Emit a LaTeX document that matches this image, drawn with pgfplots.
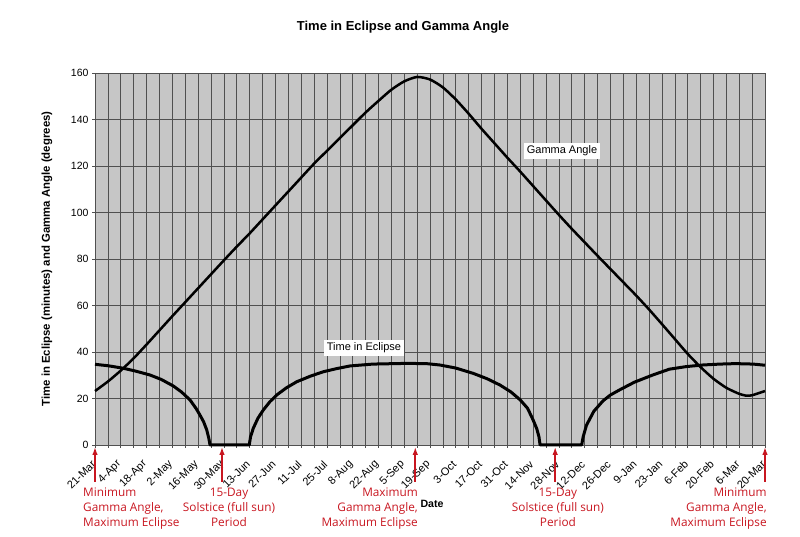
\documentclass[border=0pt]{standalone}
\usepackage{fontspec}
\setmainfont{Liberation Sans}
\newfontfamily\redfont{Open Sans}
\usepackage{pgfplots}
\pgfplotsset{compat=1.18}
\usepackage{pgfplotstable}
\usetikzlibrary{arrows.meta}
\definecolor{annred}{RGB}{200,22,32}
\definecolor{bggray}{RGB}{198,198,198}
\definecolor{gridgray}{RGB}{80,80,80}

\pgfplotstableread{
day val
0 23.2
7 27.3
14 32
21 37.3
28 43.2
35 49.3
42 55.4
49 61.4
56 67.4
63 73.4
70 79.4
77 85.3
84 91
91 97
98 103
105 109
112 115
119 121
126 126.5
133 132
140 137.5
147 143
154 148
161 152.8
168 156.4
175 158.3
182 157.2
189 153.8
196 148.6
203 142.5
210 136
217 129.8
224 123.6
231 117.6
238 111.4
245 105.2
252 99
259 93
266 87.2
273 81.4
280 75.7
287 70
294 64.3
301 58.3
308 52
315 45.6
322 39.2
329 33.5
336 28.5
343 24.6
350 22
354 21.2
357 21.4
364 23.2
}\gammatab

\pgfplotstableread{
day val
0 34.7
7 34.1
15.4 33.0
22 31.8
29.9 30.1
36 28.2
42.5 25.4
47 22.8
51.6 19.4
55 15.6
57 12.9
59 10
60.7 6.5
61.8 3
62.5 0
83.8 0
84.5 3.5
86 7.2
88.5 11.5
91.4 15
95 18.6
98.7 21.5
104 24.6
109.6 27.2
117 29.6
124 31.5
131 32.8
138.5 34
151 34.8
169 35.1
180 35
187.4 34.4
196 33.1
205.5 30.8
213 28.5
220 25.8
226 22.8
231 19.4
235 15.8
238 10.8
240 7
241.2 3.5
241.8 0
264.4 0
265.2 3.5
267 8.5
271 14.5
276 19
280 21.5
285 23.7
293 27
303 30.1
312 32.6
321 33.7
330 34.4
339.5 34.8
348 35
357.6 34.8
364 34.3
}\eclipsetab

\begin{document}
\begin{tikzpicture}[x=1pt,y=1pt]
\useasboundingbox (0,0) rectangle (800,537);
\begin{axis}[
  at={(95pt,92pt)}, anchor=south west,
  scale only axis, width=670pt, height=372pt,
  xmin=0, xmax=364, ymin=0, ymax=160,
  clip=false,
  axis background/.style={fill=bggray},
  axis line style={gridgray, line width=0.6pt},
  xtick={0,14,...,364},
  minor x tick num=1,
  ytick={0,20,...,160},
  xticklabels={21-Mar,4-Apr,18-Apr,2-May,16-May,30-May,13-Jun,27-Jun,11-Jul,25-Jul,8-Aug,22-Aug,5-Sep,19-Sep,3-Oct,17-Oct,31-Oct,14-Nov,28-Nov,12-Dec,26-Dec,9-Jan,23-Jan,6-Feb,20-Feb,6-Mar,20-Mar},
  xticklabel style={font=\fontsize{11}{12}\selectfont, xshift=-1pt, yshift=-14pt, rotate=45, anchor=east, inner sep=0.5pt},
  yticklabel style={font=\fontsize{10.5}{12}\selectfont},
  /pgf/number format/assume math mode=true,
  grid=both,
  major grid style={gridgray, line width=0.6pt},
  minor grid style={gridgray, line width=0.6pt},
  tick align=outside,
  major tick length=3pt, minor tick length=3pt,
  tick style={gridgray, line width=0.6pt},
  xtick pos=bottom, ytick pos=left,
  title={Time in Eclipse and Gamma Angle},
  title style={font=\bfseries\fontsize{13}{15}\selectfont, at={(axis description cs:0.4597,1.1075)}, anchor=center},
  xlabel={Date},
  xlabel style={font=\bfseries\fontsize{10.6}{12}\selectfont, at={(axis description cs:0.503,-0.1586)}, anchor=center},
  ylabel={Time in Eclipse (minutes) and Gamma Angle (degrees)},
  ylabel style={font=\bfseries\fontsize{11.4}{13}\selectfont, at={(axis description cs:-0.0716,0.5)}, anchor=center},
]
\addplot[black, line width=2.5pt, line join=round, smooth, tension=0.4] table[x=day,y=val] {\gammatab};
\addplot[black, line width=3pt, line join=round] table[x=day,y=val] {\eclipsetab};

\node[fill=white, inner xsep=2.5pt, inner ysep=3pt, font=\fontsize{11}{13}\selectfont] at (axis cs:253.7,126.4) {Gamma Angle};
\node[fill=white, inner xsep=2.5pt, inner ysep=3pt, font=\fontsize{11}{13}\selectfont] at (axis cs:146.1,41.7) {Time in Eclipse};

\draw[annred, line width=1.6pt, -{Latex[length=8pt,width=5.5pt]}] (axis cs:0,-15.9) -- (axis cs:0,-0.8);
\draw[annred, line width=1.6pt, -{Latex[length=8pt,width=5.5pt]}] (axis cs:69,-15.9) -- (axis cs:69,-0.8);
\draw[annred, line width=1.6pt, -{Latex[length=8pt,width=5.5pt]}] (axis cs:174,-15.9) -- (axis cs:174,-0.8);
\draw[annred, line width=1.6pt, -{Latex[length=8pt,width=5.5pt]}] (axis cs:250,-15.9) -- (axis cs:250,-0.8);
\draw[annred, line width=1.6pt, -{Latex[length=8pt,width=5.5pt]}] (axis cs:364,-15.9) -- (axis cs:364,-0.8);
\node[annred, font=\redfont\fontsize{11.8}{15}\selectfont, align=left, anchor=north west, inner sep=0pt] at (axis cs:-6.5,-18.5) {Minimum\\Gamma Angle,\\Maximum Eclipse};
\node[annred, font=\redfont\fontsize{11.8}{15}\selectfont, align=center, anchor=north, inner sep=0pt] at (axis cs:72.8,-18.5) {15-Day\\Solstice (full sun)\\Period};
\node[annred, font=\redfont\fontsize{11.8}{15}\selectfont, align=right, anchor=north east, inner sep=0pt] at (axis cs:175.5,-18.5) {Maximum\\Gamma Angle,\\Maximum Eclipse};
\node[annred, font=\redfont\fontsize{11.8}{15}\selectfont, align=center, anchor=north, inner sep=0pt] at (axis cs:251.5,-18.5) {15-Day\\Solstice (full sun)\\Period};
\node[annred, font=\redfont\fontsize{11.8}{15}\selectfont, align=right, anchor=north east, inner sep=0pt] at (axis cs:365,-18.5) {Minimum\\Gamma Angle,\\Maximum Eclipse};
\end{axis}
\end{tikzpicture}
\end{document}
